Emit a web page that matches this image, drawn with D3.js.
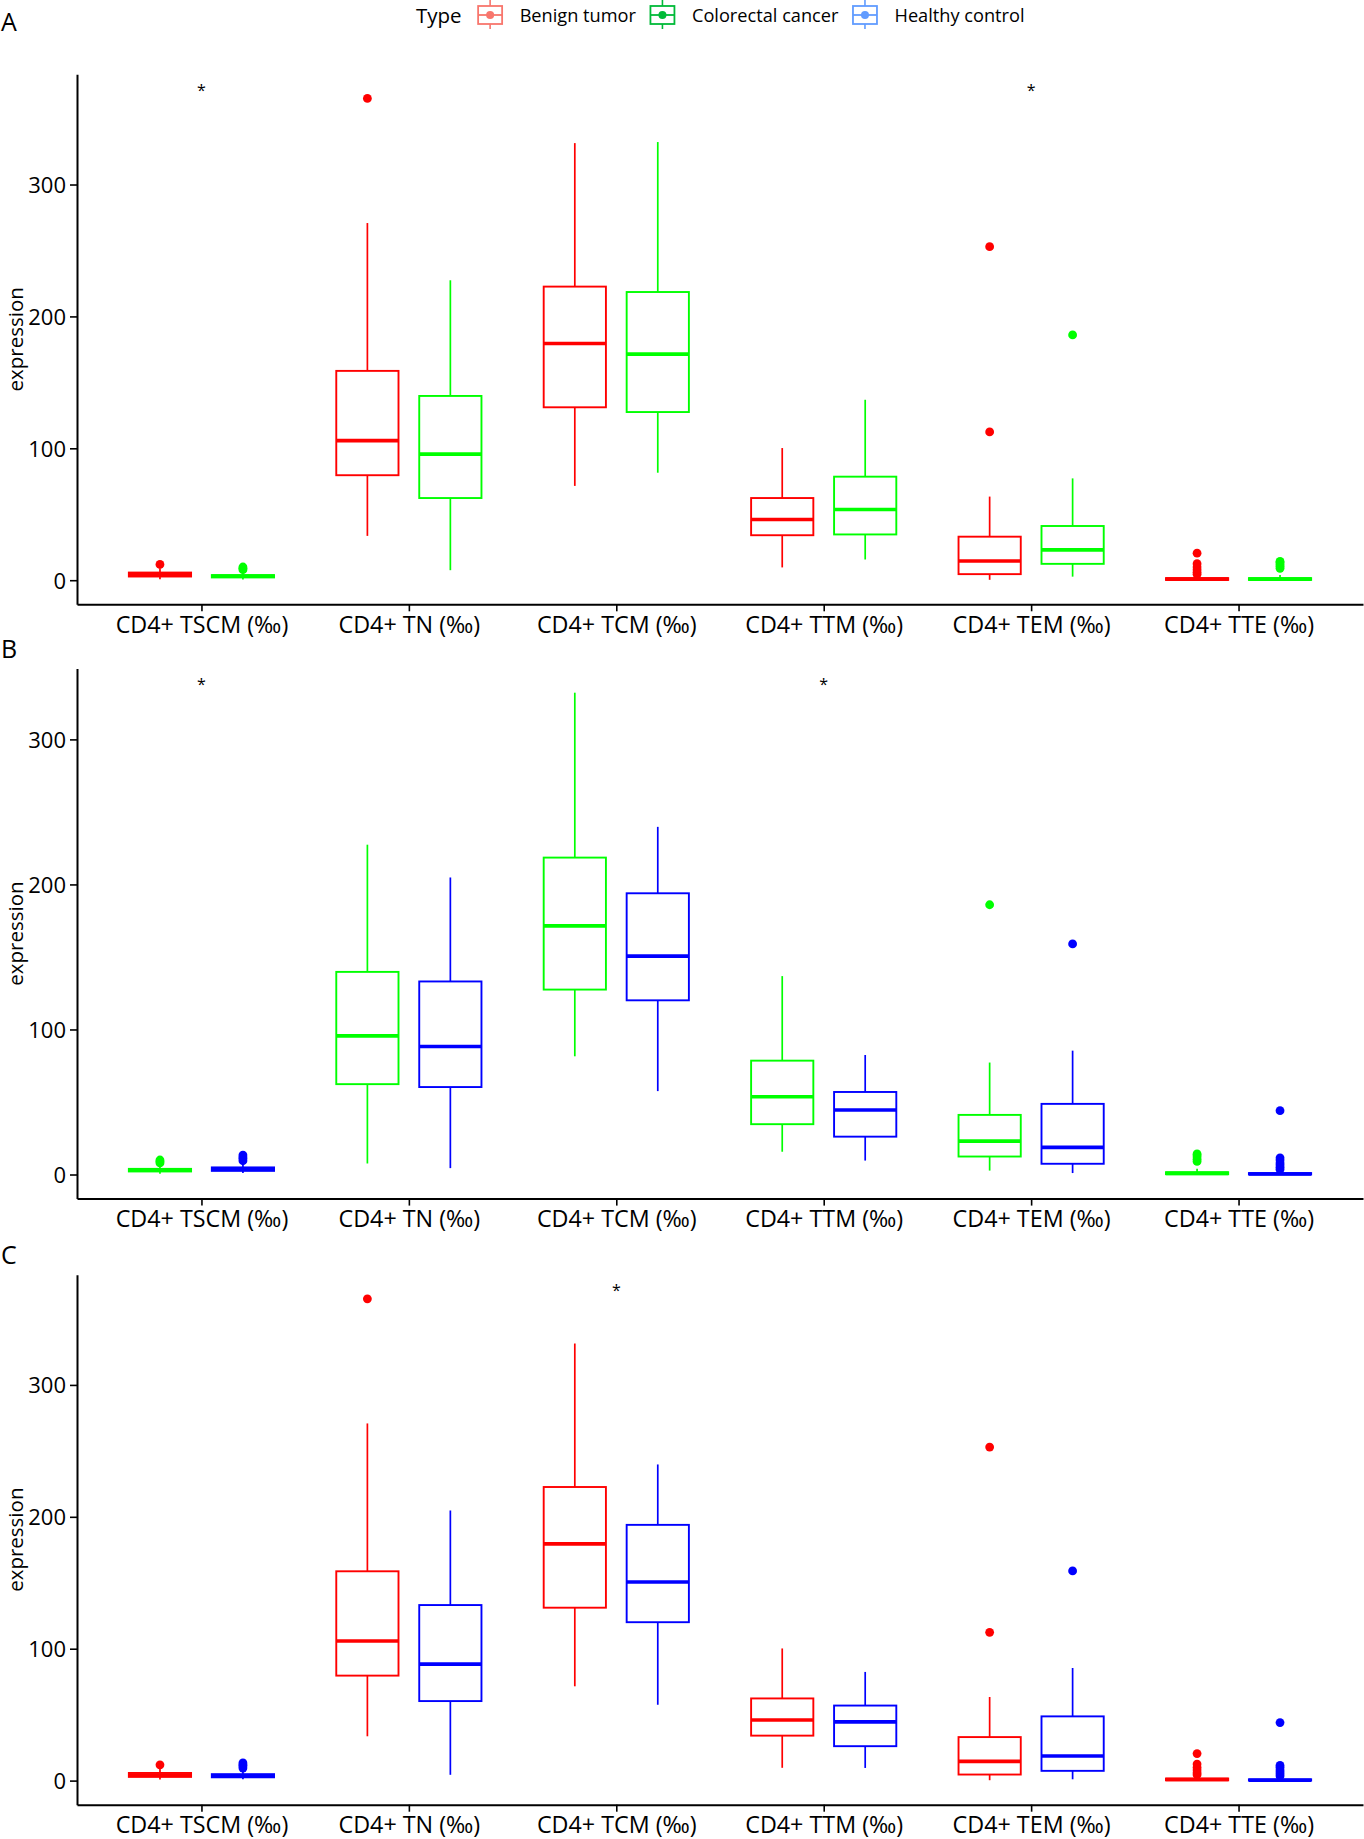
<!DOCTYPE html>
<html>
<head>
<meta charset="utf-8">
<script src="https://cdn.jsdelivr.net/npm/d3@7"></script>
<style>
body { margin: 0; background: #fff; }
text { font-family: "Open Sans", sans-serif; }
</style>
</head>
<body>
<div id="chart"></div>
<script>
var categories = ["CD4+ TSCM (‰)", "CD4+ TN (‰)", "CD4+ TCM (‰)", "CD4+ TTM (‰)", "CD4+ TEM (‰)", "CD4+ TTE (‰)"];
var yTicks = [0, 100, 200, 300];

var groupNames = ["Benign tumor", "Colorectal cancer", "Healthy control"];

// Benign tumor
var benignLo  = [0.8, 33.6, 71.5, 9.7, 0.3, 0];
var benignQ1  = [2.8, 79.6, 131.1, 34.1, 4.6, 0.2];
var benignMed = [4.2, 105.8, 179.5, 46, 14.6, 0.8];
var benignQ3  = [5.8, 158.7, 222.6, 62.3, 33, 1.6];
var benignHi  = [9, 270.8, 331.4, 100.2, 63.4, 3];
var benignOut = [[12], [365.3], [], [], [252.9, 112.4], [4.5, 6, 8, 10, 12.5, 20.5]];

// Colorectal cancer
var cancerLo  = [0.5, 7.6, 81.5, 15.7, 2.7, 0];
var cancerQ1  = [2.1, 62.3, 127.5, 34.7, 12.4, 0.2];
var cancerMed = [3, 95.6, 171.4, 53.6, 23, 0.8];
var cancerQ3  = [3.9, 139.7, 218.5, 78.5, 41.1, 1.6];
var cancerHi  = [6, 227.4, 332.2, 136.8, 77.2, 4];
var cancerOut = [[8, 9, 10], [], [], [], [186], [9, 10.5, 12, 13.5, 14.2]];

// Healthy control
var healthyLo  = [1, 4.4, 57.5, 9.6, 1, 0];
var healthyQ1  = [2.5, 60.3, 120.1, 26.1, 7.4, 0];
var healthyMed = [3.7, 88.3, 150.6, 44.5, 18.7, 0.3];
var healthyQ3  = [4.9, 133.1, 193.9, 56.9, 48.7, 1];
var healthyHi  = [8, 204.8, 239.7, 82.4, 85.4, 2.5];
var healthyOut = [[9.5, 11, 12, 13.4], [], [], [], [159], [3.5, 5, 6.5, 8, 10, 11.5, 44]];

// panels: which groups are compared, and where the "*" goes
var panelLetters = ["A", "B", "C"];
var panelGroups = [[0, 1], [1, 2], [0, 2]];
var panelStars = [
    ["CD4+ TSCM (‰)", "CD4+ TEM (‰)"],
    ["CD4+ TSCM (‰)", "CD4+ TTM (‰)"],
    ["CD4+ TCM (‰)"]
];

var boxColors = ["#FF0000", "#00FF00", "#0000FF"];
var legendColors = ["#F8766D", "#00BA38", "#619CFF"];

var groups = [
    {lo: benignLo, q1: benignQ1, med: benignMed, q3: benignQ3, hi: benignHi, out: benignOut},
    {lo: cancerLo, q1: cancerQ1, med: cancerMed, q3: cancerQ3, hi: cancerHi, out: cancerOut},
    {lo: healthyLo, q1: healthyQ1, med: healthyMed, q3: healthyQ3, hi: healthyHi, out: healthyOut}
];

var width = 1364;
var height = 1839;
var plotLeft = 77;
var plotRight = 1363;
var plotTops = [74.3, 668.6, 1274.7];
var plotHeight = 530;

var svg = d3.select("#chart").append("svg")
    .attr("width", width)
    .attr("height", height);

var xScale = d3.scalePoint()
    .domain(categories)
    .range([plotLeft, plotRight])
    .padding(0.6);
var step = xScale.step();
var boxWidth = 0.3 * step;
var dodge = 0.2 * step;

function makePanel(p) {
    var top = plotTops[p];
    var pair = panelGroups[p];

    var maxVal = d3.max(pair, function (gi) {
        var g = groups[gi];
        return Math.max(d3.max(g.hi), d3.max(g.out, function (o) { return d3.max(o) || 0; }));
    });
    var minVal = 0;
    var pad = (maxVal - minVal) * 0.05;

    var yScale = d3.scaleLinear()
        .domain([minVal - pad, maxVal + pad])
        .range([top + plotHeight, top]);

    var chartGroup = svg.append("g").attr("class", "panel" + panelLetters[p]);

    pair.forEach(function (gi, j) {
        var g = groups[gi];
        var color = boxColors[gi];
        var shift = (j === 0 ? -1 : 1) * dodge;

        var boxes = chartGroup.append("g").selectAll("g")
            .data(categories)
            .enter().append("g");

        boxes.each(function (cat, i) {
            var sel = d3.select(this);
            var cx = xScale(cat) + shift;

            sel.selectAll("circle")
                .data(g.out[i])
                .enter().append("circle")
                .attr("cx", cx)
                .attr("cy", function (d) { return yScale(d); })
                .attr("r", 4.4)
                .attr("fill", color);

            sel.append("line")
                .attr("x1", cx).attr("x2", cx)
                .attr("y1", yScale(g.hi[i])).attr("y2", yScale(g.q3[i]))
                .attr("stroke", color).attr("stroke-width", 1.7);
            sel.append("line")
                .attr("x1", cx).attr("x2", cx)
                .attr("y1", yScale(g.q1[i])).attr("y2", yScale(g.lo[i]))
                .attr("stroke", color).attr("stroke-width", 1.7);

            sel.append("rect")
                .attr("x", cx - boxWidth / 2)
                .attr("y", yScale(g.q3[i]))
                .attr("width", boxWidth)
                .attr("height", yScale(g.q1[i]) - yScale(g.q3[i]))
                .attr("fill", "#fff")
                .attr("stroke", color)
                .attr("stroke-width", 1.9);

            sel.append("line")
                .attr("x1", cx - boxWidth / 2).attr("x2", cx + boxWidth / 2)
                .attr("y1", yScale(g.med[i])).attr("y2", yScale(g.med[i]))
                .attr("stroke", color).attr("stroke-width", 3.6);
        });
    });

    // significance stars
    chartGroup.selectAll(".star")
        .data(panelStars[p])
        .enter().append("text")
        .attr("class", "star")
        .attr("x", function (d) { return xScale(d); })
        .attr("y", yScale(maxVal * 1.025) + 9.5)
        .attr("text-anchor", "middle")
        .style("font-size", "16px")
        .attr("fill", "#000")
        .text("*");

    var xAxis = d3.axisBottom(xScale).tickSize(7).tickSizeOuter(0);
    var yAxis = d3.axisLeft(yScale).tickValues(yTicks).tickSize(7).tickSizeOuter(0);

    var gx = chartGroup.append("g")
        .attr("class", "axis x")
        .attr("transform", "translate(0," + (top + plotHeight) + ")")
        .call(xAxis);
    gx.select(".domain").attr("stroke", "#000").attr("stroke-width", 2);
    gx.selectAll(".tick line").attr("stroke", "#000").attr("stroke-width", 1.6);
    gx.selectAll(".tick text")
        .attr("y", 28.5).attr("dy", 0)
        .attr("fill", "#000")
        .style("font-size", "23.3px");

    var gy = chartGroup.append("g")
        .attr("class", "axis y")
        .attr("transform", "translate(" + plotLeft + ",0)")
        .call(yAxis);
    gy.select(".domain").attr("stroke", "#000").attr("stroke-width", 2);
    gy.selectAll(".tick line").attr("stroke", "#000").attr("stroke-width", 1.6);
    gy.selectAll(".tick text")
        .attr("x", -11).attr("dy", "0.36em")
        .attr("fill", "#000")
        .style("font-size", "22px");

    chartGroup.append("text")
        .attr("transform", "translate(22.5," + (top + plotHeight / 2) + ") rotate(-90)")
        .attr("text-anchor", "middle")
        .attr("fill", "#000")
        .style("font-size", "20.5px")
        .text("expression");

    chartGroup.append("text")
        .attr("x", 1)
        .attr("y", top - (p === 0 ? 43 : 11))
        .attr("fill", "#000")
        .style("font-size", "25px")
        .text(panelLetters[p]);
}

makePanel(0);
makePanel(1);
makePanel(2);

// legend on top
var legend = svg.append("g").attr("class", "legend");
var lx = 416;
var ly = 15;

var title = legend.append("text")
    .attr("x", lx).attr("y", ly + 7.5)
    .attr("fill", "#000")
    .style("font-size", "20.5px")
    .text("Type");
lx += title.node().getComputedTextLength() + 16;

groupNames.forEach(function (name, i) {
    var key = legend.append("g").attr("transform", "translate(" + lx + ",0)");
    var c = legendColors[i];
    key.append("line").attr("x1", 12.5).attr("x2", 12.5).attr("y1", 0).attr("y2", 29)
        .attr("stroke", c).attr("stroke-width", 1.6);
    key.append("rect").attr("x", 0.5).attr("y", 6).attr("width", 24).attr("height", 18)
        .attr("fill", "#fff").attr("stroke", c).attr("stroke-width", 1.8);
    key.append("line").attr("x1", 0.5).attr("x2", 24.5).attr("y1", ly).attr("y2", ly)
        .attr("stroke", c).attr("stroke-width", 1.8);
    key.append("circle").attr("cx", 12.5).attr("cy", ly).attr("r", 4)
        .attr("fill", c);

    var t = legend.append("text")
        .attr("x", lx + 25 + 17).attr("y", ly + 6.5)
        .attr("fill", "#000")
        .style("font-size", "18.2px")
        .text(name);
    lx += 25 + 17 + t.node().getComputedTextLength() + 14;
});
</script>
</body>
</html>
